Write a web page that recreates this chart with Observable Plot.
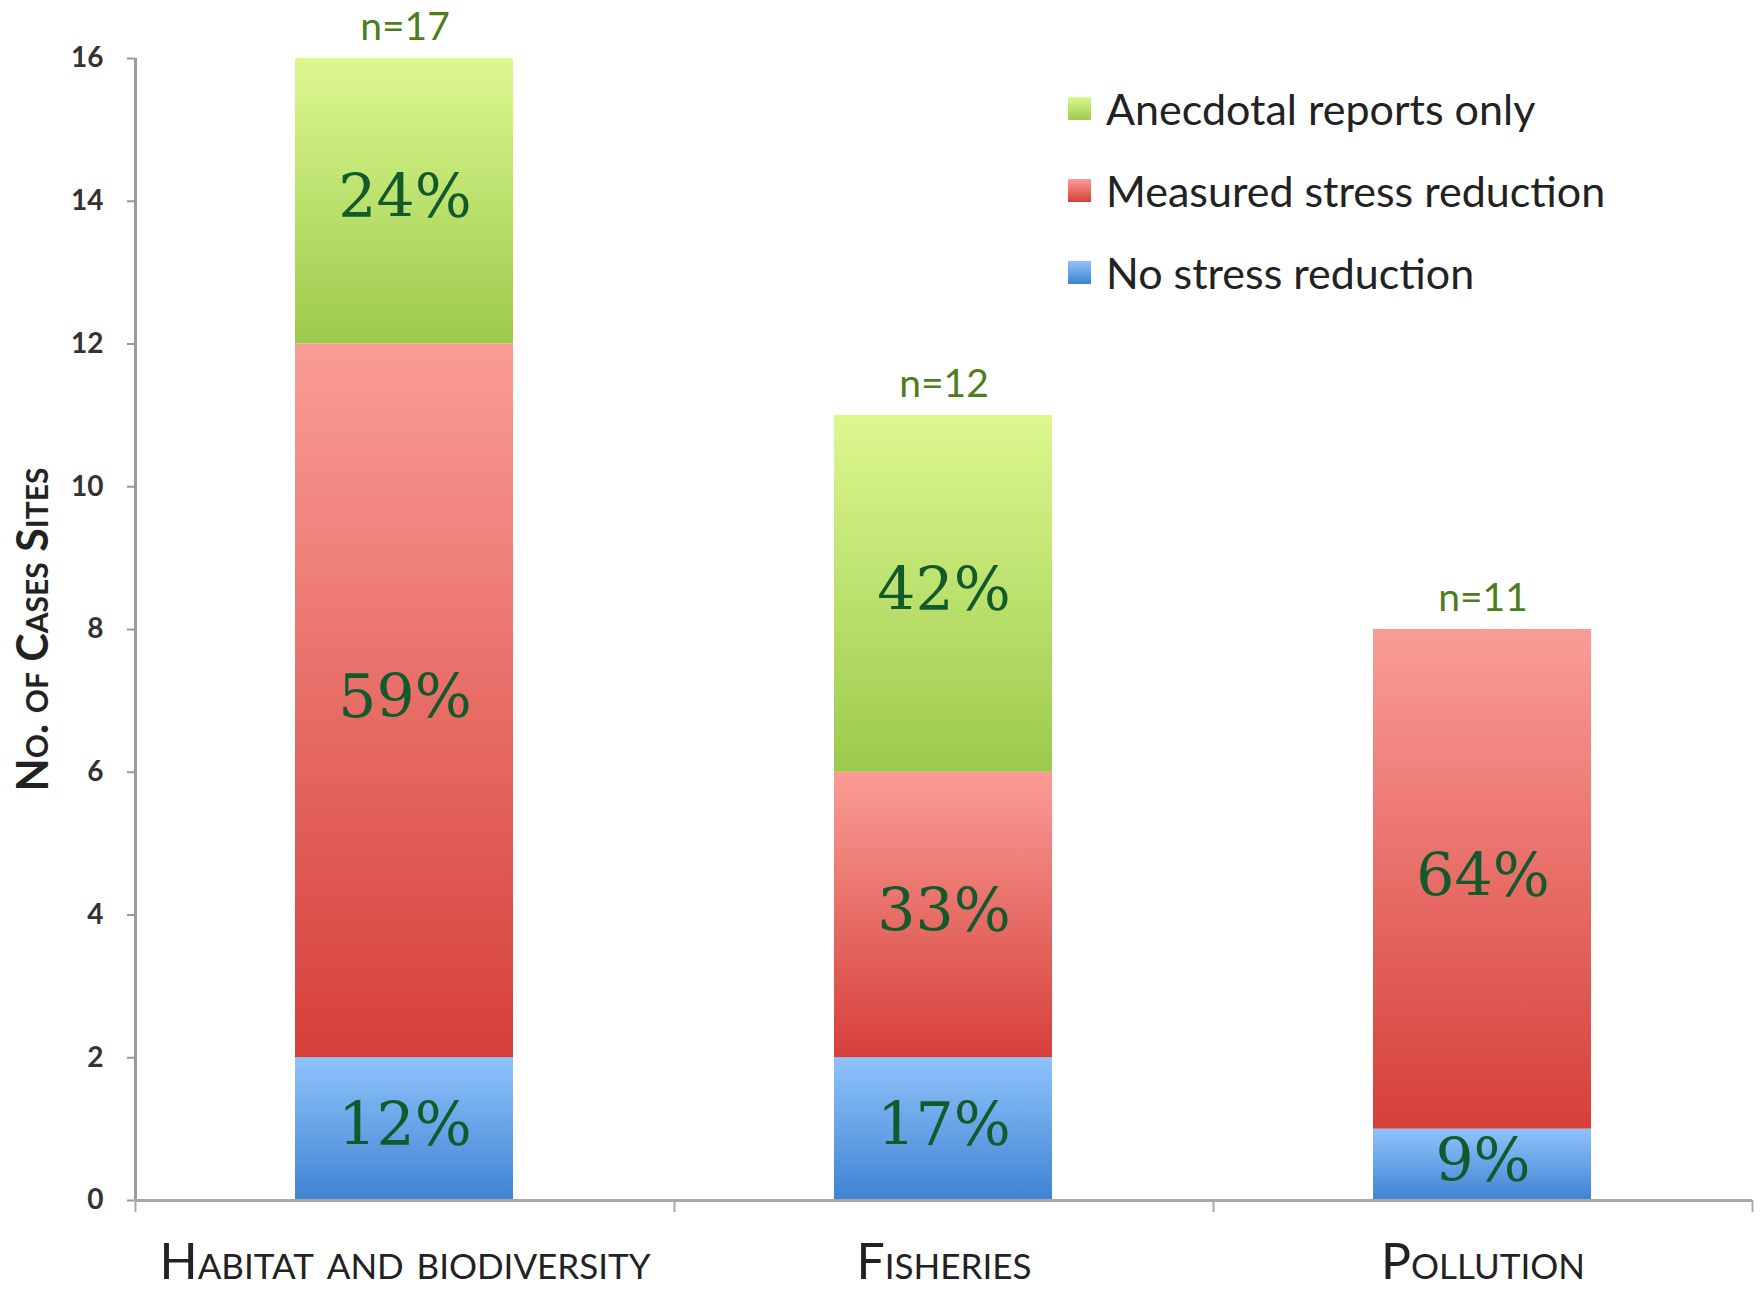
<!DOCTYPE html>
<html>
<head>
<meta charset="utf-8">
<script src="https://cdn.jsdelivr.net/npm/d3@7"></script>
<script src="https://cdn.jsdelivr.net/npm/@observablehq/plot@0.6"></script>
<style>
  html, body { margin: 0; padding: 0; background: #fff; }
  #wrap { position: relative; width: 1761px; height: 1293px; }
  #legend { position: absolute; left: 1068px; top: 67px; font-family: Lato, "Open Sans", sans-serif; font-size: 43px; color: #222; }
  #legend .row { display: flex; align-items: center; height: 82px; }
  #legend .sw { width: 23px; height: 23px; margin-right: 15px; }
</style>
</head>
<body>
<div id="wrap"></div>
<script>
// ---- data ----
const categories = ["Habitat and biodiversity", "Fisheries", "Pollution"];
const series = ["No stress reduction", "Measured stress reduction", "Anecdotal reports only"];
const noStress = [2, 2, 1];
const measured = [10, 4, 7];
const anecdotal = [4, 5, 0];
const pctNoStress = ["12%", "17%", "9%"];
const pctMeasured = ["59%", "33%", "64%"];
const pctAnecdotal = ["24%", "42%", ""];
const nLabels = ["n=17", "n=12", "n=11"];
const yTicks = [0, 2, 4, 6, 8, 10, 12, 14, 16];
const yTitle = "No. of Cases Sites";
const legendOrder = ["Anecdotal reports only", "Measured stress reduction", "No stress reduction"];

// gradient ids and colours per series
const gradIds = ["gBlue", "gRed", "gGreen"];
const gradStops = [["#8fc3fa", "#3f83d3"], ["#fa9c96", "#d63f39"], ["#dcf88f", "#9cca4c"]];

// ---- build stacked rows ----
const valuesBySeries = [noStress, measured, anecdotal];
const labelsBySeries = [pctNoStress, pctMeasured, pctAnecdotal];
const rows = [];
categories.forEach((c, i) => {
  let acc = 0;
  series.forEach((s, k) => {
    const v = valuesBySeries[k][i];
    rows.push({cat: c, i, series: s, y1: acc, y2: acc + v, label: labelsBySeries[k][i]});
    acc += v;
  });
});
const totals = categories.map((c, i) => ({cat: c, i, total: noStress[i] + measured[i] + anecdotal[i], n: nLabels[i]}));

const chart = Plot.plot({
  width: 1761,
  height: 1293,
  marginLeft: 135,
  marginRight: 9,
  marginTop: 58,
  marginBottom: 93,
  style: {fontFamily: "Lato, 'Open Sans', sans-serif", background: "#fff"},
  x: {domain: [0, 3], axis: null},
  y: {domain: [0, 16], axis: null},
  color: {domain: series, range: gradIds.map(id => `url(#${id})`)},
  marks: [
    Plot.rectY(rows.filter(d => d.y2 > d.y1), {
      x1: d => d.i, x2: d => d.i + 1, y1: "y1", y2: "y2",
      fill: "series", insetLeft: 160, insetRight: 161
    }),
    Plot.ruleX([0], {y1: 0, y2: 16, stroke: "#9a9a9a", strokeWidth: 3}),
    Plot.ruleY([0], {stroke: "#a8a8a8", strokeWidth: 3}),
    Plot.axisY({ticks: yTicks, tickSize: 8, tickPadding: 24, stroke: "#9a9a9a", strokeWidth: 2,
      fontSize: 28, fontWeight: 700, fill: "#333", label: null}),
    Plot.axisX({ticks: [0, 1, 2, 3], tickSize: 12, tickFormat: () => "", stroke: "#a8a8a8", strokeWidth: 2, label: null}),
    Plot.text(rows.filter(d => d.label), {
      x: d => d.i + 0.5, y: d => (d.y1 + d.y2) / 2, text: "label", dy: -3,
      fontFamily: "'DejaVu Serif', 'Liberation Serif', serif", fontSize: 60, fill: "#12592c"
    }),
    Plot.text(totals, {
      x: d => d.i + 0.5, y: "total", text: "n", dy: -31,
      fontFamily: "Lato, sans-serif", fontSize: 39, fill: "#4e7d1c"
    }),
    Plot.text(categories, {
      x: (d, i) => i + 0.5, frameAnchor: "bottom", dy: 78, text: d => d,
      fontFamily: "Lato, sans-serif", fontSize: 50, fill: "#222"
    }),
    Plot.text([yTitle], {
      frameAnchor: "left", textAnchor: "middle", rotate: -90, dx: -101, text: d => d,
      fontFamily: "Lato, sans-serif", fontSize: 43, fontWeight: 700, fill: "#222"
    })
  ]
});

// gradient defs
const defs = d3.select(chart).insert("defs", ":first-child");
gradIds.forEach((id, k) => {
  const g = defs.append("linearGradient").attr("id", id).attr("x1", 0).attr("y1", 0).attr("x2", 0).attr("y2", 1);
  g.append("stop").attr("offset", "0%").attr("stop-color", gradStops[k][0]);
  g.append("stop").attr("offset", "100%").attr("stop-color", gradStops[k][1]);
});

// small caps for category labels and the y title
d3.select(chart).selectAll("text")
  .filter(function() { const t = this.textContent; return categories.includes(t) || t === yTitle; })
  .style("font-variant", "small-caps");

const wrap = document.getElementById("wrap");
wrap.appendChild(chart);

// legend
const legend = document.createElement("div");
legend.id = "legend";
legendOrder.forEach(name => {
  const k = series.indexOf(name);
  const row = document.createElement("div");
  row.className = "row";
  const sw = document.createElement("div");
  sw.className = "sw";
  sw.style.background = `linear-gradient(${gradStops[k][0]}, ${gradStops[k][1]})`;
  const t = document.createElement("span");
  t.textContent = name;
  row.appendChild(sw);
  row.appendChild(t);
  legend.appendChild(row);
});
wrap.appendChild(legend);
</script>
</body>
</html>
